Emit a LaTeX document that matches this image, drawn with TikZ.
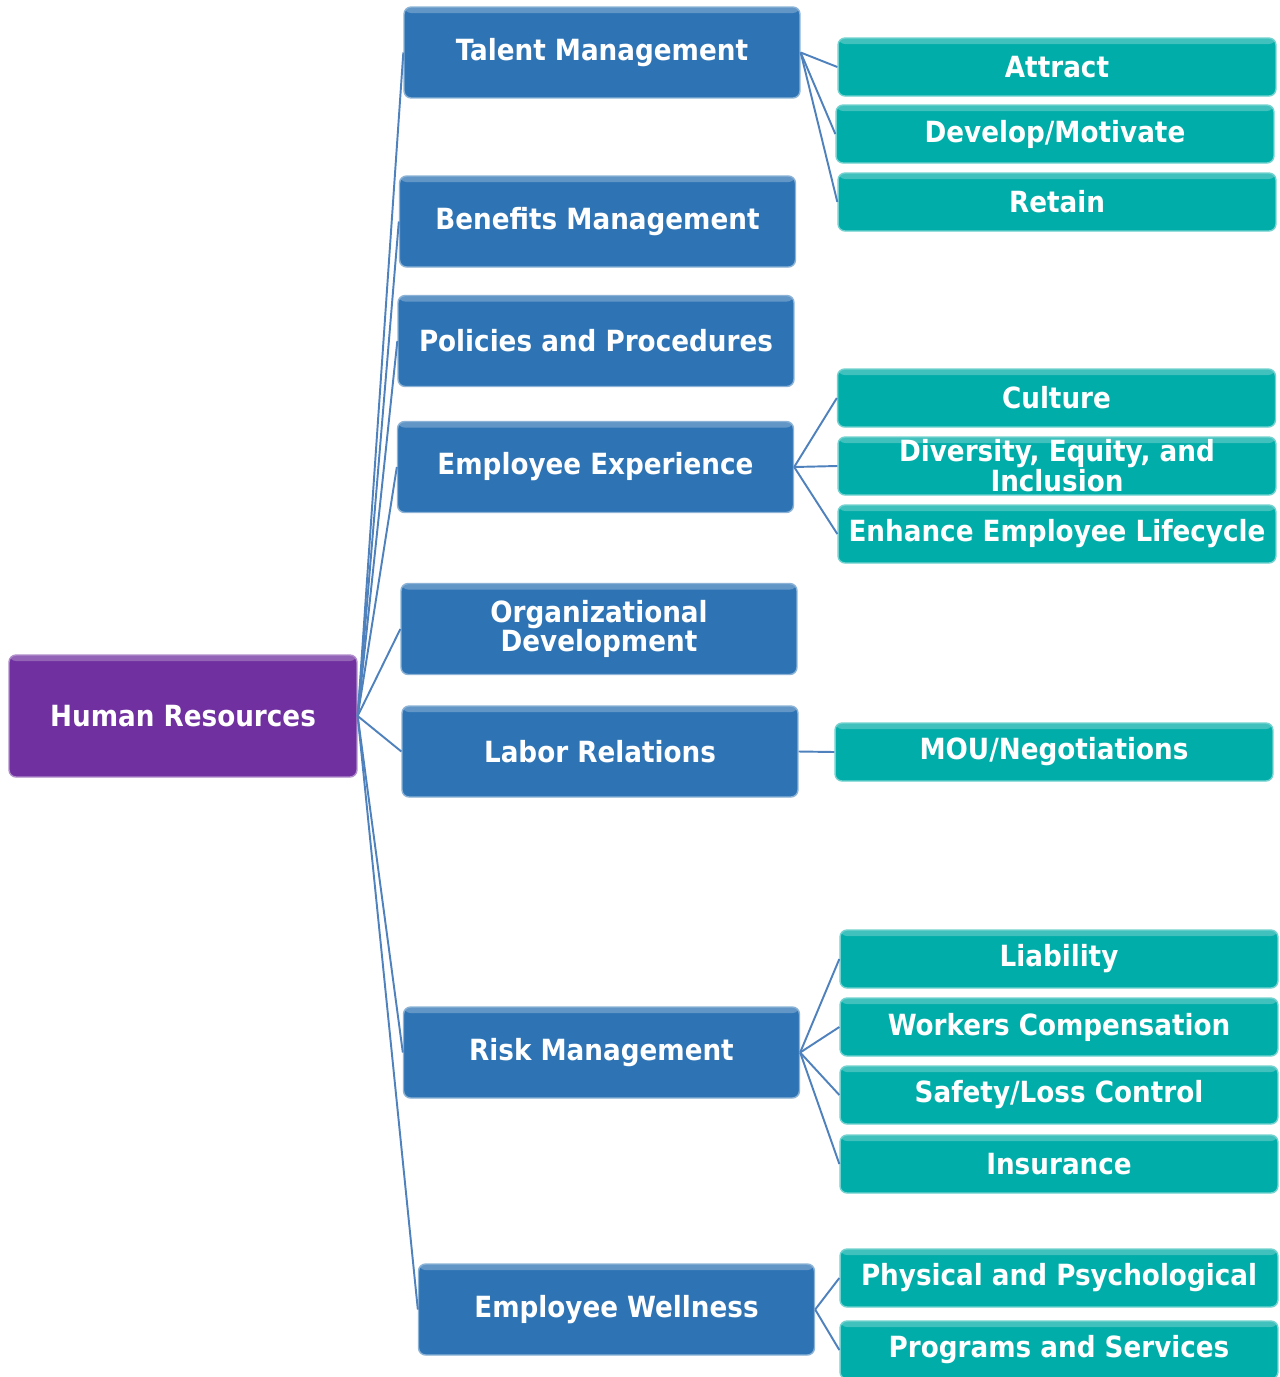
\documentclass[tikz,border=0pt]{standalone}
\usepackage{fontspec}
\setmainfont{DejaVu Sans Condensed}
\usepackage{tikz}
\usetikzlibrary{positioning, calc}
\definecolor{hrpurple}{HTML}{7030A0}
\definecolor{hrblue}{HTML}{2E74B5}
\definecolor{hrteal}{HTML}{00ADA8}
\definecolor{hrline}{HTML}{4F81BD}

\begin{document}
\begin{tikzpicture}[x=0.02cm, y=-0.02cm,
    box/.style={rectangle, rounded corners=4pt, text=white,
          font=\fontsize{16.6}{17}\selectfont\bfseries, align=center,
          inner sep=0pt, line width=0.8pt,
          path picture={\fill[white, opacity=0.25]
            (path picture bounding box.north west) rectangle
            ([yshift=-0.12cm]path picture bounding box.north east);}},
    rootbox/.style={box, fill=hrpurple, draw=hrpurple!55!white,
          minimum width=6.96cm, minimum height=2.44cm},
    areabox/.style={box, fill=hrblue, draw=hrblue!55!white,
          minimum width=7.92cm, minimum height=1.82cm},
    itembox/.style={box, fill=hrteal, draw=hrteal!55!white,
          minimum width=8.76cm, minimum height=1.16cm},
    link/.style={draw=hrline, line width=1.1pt}]
    \useasboundingbox (0,0) rectangle (1280,1377);

    % root
    \node[rootbox] (hr) at (183,716) {Human Resources};

    % areas
    \node[areabox] (talent)   at (602,52.5)   {Talent Management};
    \node[areabox] (benefits) at (597.5,221.5) {Benefits Management};
    \node[areabox] (policies) at (596,341)    {Policies and Procedures};
    \node[areabox] (empexp)   at (595.5,467)  {Employee Experience};
    \node[areabox] (orgdev)   at (599,629)    {Organizational\\Development};
    \node[areabox] (labor)    at (600,751.5)  {Labor Relations};
    \node[areabox] (risk)     at (601.5,1052.5) {Risk Management};
    \node[areabox] (wellness) at (616.5,1309.5) {Employee Wellness};

    % items
    \node[itembox] (attract)  at (1057,67)   {Attract};
    \node[itembox] (develop)  at (1055,134)  {Develop/Motivate};
    \node[itembox] (retain)   at (1057,202)  {Retain};
    \node[itembox] (culture)  at (1056.5,398) {Culture};
    \node[itembox] (dei)      at (1057,466)  {Diversity, Equity, and\\Inclusion};
    \node[itembox] (enhance)  at (1057,534)  {Enhance Employee Lifecycle};
    \node[itembox] (mou)      at (1054,752)  {MOU/Negotiations};
    \node[itembox] (liab)     at (1059,959)  {Liability};
    \node[itembox] (workers)  at (1059,1027) {Workers Compensation};
    \node[itembox] (safety)   at (1059,1095) {Safety/Loss Control};
    \node[itembox] (insur)    at (1059,1164) {Insurance};
    \node[itembox] (physical) at (1059,1278) {Physical and Psychological};
    \node[itembox] (programs) at (1059,1350) {Programs and Services};

    % connectors
    \foreach \a in {talent,benefits,policies,empexp,orgdev,labor,risk,wellness}
      \draw[link] (hr.east) -- (\a.west);
    \foreach \i in {attract,develop,retain}
      \draw[link] (talent.east) -- (\i.west);
    \foreach \i in {culture,dei,enhance}
      \draw[link] (empexp.east) -- (\i.west);
    \draw[link] (labor.east) -- (mou.west);
    \foreach \i in {liab,workers,safety,insur}
      \draw[link] (risk.east) -- (\i.west);
    \foreach \i in {physical,programs}
      \draw[link] (wellness.east) -- (\i.west);
  \end{tikzpicture}
\end{document}
